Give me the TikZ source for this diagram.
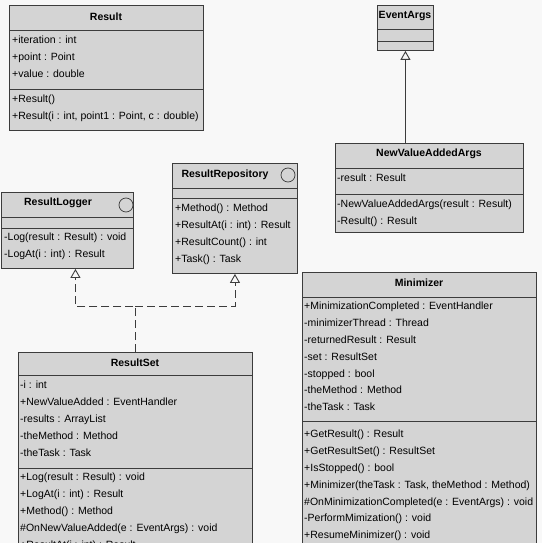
\documentclass[tikz,border=0pt]{standalone}
\usepackage{fontspec}
\setmainfont{Liberation Sans}
\usepackage{tikz}
\usetikzlibrary{arrows.meta, calc}
\definecolor{classfill}{RGB}{212, 212, 212}
\definecolor{classline}{RGB}{60, 60, 60}
\definecolor{paper}{RGB}{248, 248, 248}
% compartment line of a class box, #2 below its top
\newcommand{\compsep}[2]{\draw[classline, line width=0.9pt]
  ($(#1.north west)+(0,#2)$) -- ($(#1.north east)+(0,#2)$);}

\begin{document}
\begin{tikzpicture}[x=1pt, y=-1pt, font=\fontsize{10.5}{16.8}\selectfont,
    classbox/.style={draw=classline, fill=classfill, line width=0.9pt,
                     inner sep=0pt, anchor=north west},
    classtitle/.style={font=\fontsize{10.5}{16.8}\selectfont\bfseries, inner sep=0pt},
    members/.style={anchor=north west, align=left, inner sep=0pt},
    iface/.style={circle, draw=classline, line width=0.7pt, minimum size=14pt, inner sep=0pt},
    realize/.style={classline, line width=0.9pt, dash pattern=on 8pt off 4pt,
                    -{Triangle[open, length=9pt, width=10pt]}},
    inherit/.style={classline, line width=0.9pt,
                    -{Triangle[open, length=9pt, width=10pt]}}]
        \useasboundingbox (0,0) rectangle (542,543);
        \fill[paper] (0,0) rectangle (542,543);
        \clip (0,0) rectangle (542,543);
        % Result
        \node[classbox, minimum width=194pt, minimum height=125pt] (result) at (9,5) {};
        \compsep{result}{25} \compsep{result}{84}
        \node[classtitle] (resulttitle) at (106,17) {Result};
        \node[members] (resultattr) at (12,36)
              {+iteration : int\\+point : Point\\+value : double};
        \node[members] (resultops) at (12,95)
              {+Result()\\+Result(i : int, point1 : Point, c : double)};
        % EventArgs
        \node[classbox, minimum width=56pt, minimum height=45pt] (eventargs) at (377,5) {};
        \compsep{eventargs}{24} \compsep{eventargs}{36}
        \node[classtitle] (eventargstitle) at (405,16) {EventArgs};
        % NewValueAddedArgs
        \node[classbox, minimum width=188pt, minimum height=89pt] (newvalue) at (335,143) {};
        \compsep{newvalue}{25} \compsep{newvalue}{51}
        \node[classtitle] (newvaluetitle) at (429,154) {NewValueAddedArgs};
        \node[members] (newvalueattr) at (337,174) {-result : Result};
        \node[members] (newvalueops) at (337,200)
              {-NewValueAddedArgs(result : Result)\\-Result() : Result};
        % ResultLogger
        \node[classbox, minimum width=132pt, minimum height=76pt] (logger) at (1,192) {};
        \compsep{logger}{25} \compsep{logger}{36}
        \node[classtitle] (loggertitle) at (58,203) {ResultLogger};
        \node[iface] (loggericon) at (126,205) {};
        \node[members] (loggerops) at (4,233)
              {-Log(result : Result) : void\\-LogAt(i : int) : Result};
        % ResultRepository
        \node[classbox, minimum width=125pt, minimum height=110pt] (repository) at (172,163) {};
        \compsep{repository}{25} \compsep{repository}{35}
        \node[classtitle] (repositorytitle) at (225,175) {ResultRepository};
        \node[iface] (repositoryicon) at (288,175) {};
        \node[members] (repositoryops) at (175,204)
              {+Method() : Method\\+ResultAt(i : int) : Result\\+ResultCount() : int\\+Task() : Task};
        % ResultSet
        \node[classbox, minimum width=234pt, minimum height=220pt] (resultset) at (18,352) {};
        \compsep{resultset}{23} \compsep{resultset}{116}
        \node[classtitle] (resultsettitle) at (135,363) {ResultSet};
        \node[members] (resultsetattr) at (20,381)
              {-i : int\\+NewValueAdded : EventHandler\\-results : ArrayList\\-theMethod : Method\\-theTask : Task};
        \node[members] (resultsetops) at (20,473)
              {+Log(result : Result) : void\\+LogAt(i : int) : Result\\+Method() : Method\\%
               \#OnNewValueAdded(e : EventArgs) : void\\+ResultAt(i : int) : Result};
        % Minimizer
        \node[classbox, minimum width=234pt, minimum height=300pt] (minimizer) at (302,272) {};
        \compsep{minimizer}{25} \compsep{minimizer}{149}
        \node[classtitle] (minimizertitle) at (419,283) {Minimizer};
        \node[members] (minimizerattr) at (304,302)
              {+MinimizationCompleted : EventHandler\\-minimizerThread : Thread\\-returnedResult : Result\\%
               -set : ResultSet\\-stopped : bool\\-theMethod : Method\\-theTask : Task};
        \node[members] (minimizerops) at (304,430)
              {+GetResult() : Result\\+GetResultSet() : ResultSet\\+IsStopped() : bool\\%
               +Minimizer(theTask : Task, theMethod : Method)\\\#OnMinimizationCompleted(e : EventArgs) : void\\%
               -PerformMimization() : void\\+ResumeMinimizer() : void};
        \draw[inherit] (newvalue.north -| eventargs.south) -- (eventargs.south);
        \draw[realize] (resultset.north) -- ++(0,-46) coordinate (fork)
              -| ($(logger.south)+(8,0)$);
        \draw[realize] (fork) -| (repository.south);
      \end{tikzpicture}
\end{document}
